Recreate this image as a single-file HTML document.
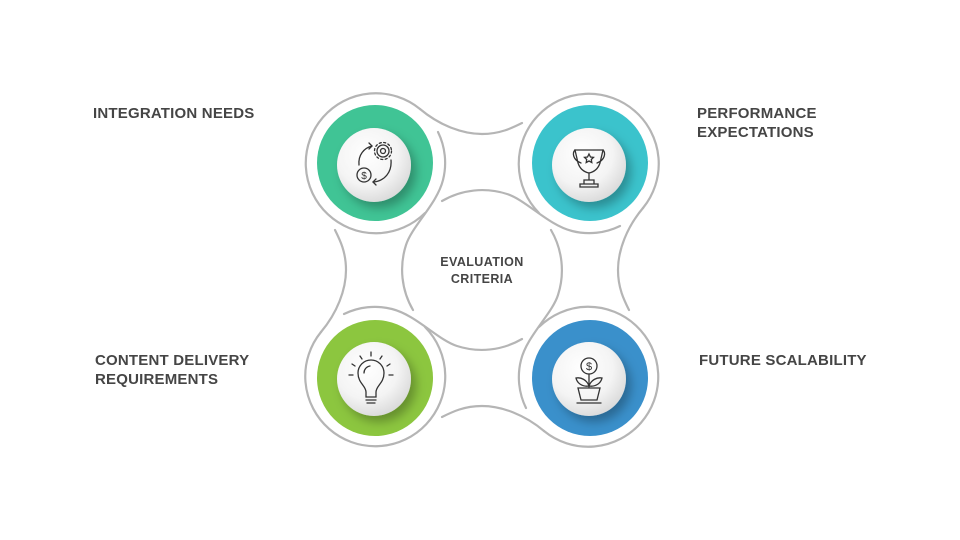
<!DOCTYPE html>
<html><head><meta charset="utf-8"><style>
html,body{margin:0;padding:0;background:#fff;}
body{width:960px;height:540px;position:relative;overflow:hidden;font-family:"Liberation Sans",sans-serif;}
.lbl{position:absolute;font-weight:bold;font-size:15px;color:#454545;line-height:19px;letter-spacing:0.2px;}
</style></head><body>
<svg width="960" height="540" viewBox="0 0 960 540" style="position:absolute;left:0;top:0">
<defs>
<radialGradient id="wg" cx="40%" cy="35%" r="70%">
<stop offset="0" stop-color="#ffffff"/><stop offset="0.6" stop-color="#f4f4f4"/><stop offset="1" stop-color="#d8d8d8"/>
</radialGradient>
<filter id="sh" x="-30%" y="-30%" width="170%" height="170%">
<feDropShadow dx="5" dy="6" stdDeviation="5" flood-color="#000" flood-opacity="0.28"/>
</filter>
<g id="piece" fill="none" stroke="#b5b5b5" stroke-width="2.2" stroke-linecap="round">
<path d="M -62,-161 A 70 70 0 1 0 -57,-57"/>
<path d="M -62,-161 C -43,-145 -20,-136 0,-136 C 18,-136 30,-142 40,-147"/>
<path d="M -69,40 A 80 80 0 0 1 -76,-25 C -70,-44 -45,-66 -39,-90 A 70 70 0 0 0 -44,-138"/>
</g>
</defs>
<g transform="translate(482,270)">
<use href="#piece"/>
<use href="#piece" transform="rotate(90)"/>
<use href="#piece" transform="rotate(180)"/>
<use href="#piece" transform="rotate(270)"/>
</g>
<circle cx="375" cy="163" r="58" fill="#40c495"/>
<circle cx="590" cy="163" r="58" fill="#3bc3cc"/>
<circle cx="375" cy="378" r="58" fill="#8cc63f"/>
<circle cx="590" cy="378" r="58" fill="#3a90cb"/>
<g filter="url(#sh)">
<circle cx="374" cy="165" r="37" fill="url(#wg)"/>
<circle cx="589" cy="165" r="37" fill="url(#wg)"/>
<circle cx="374" cy="379" r="37" fill="url(#wg)"/>
<circle cx="589" cy="379" r="37" fill="url(#wg)"/>
</g>
<g fill="none" stroke="#333" stroke-width="1.3" stroke-linecap="round">
<circle cx="383" cy="151" r="6"/><circle cx="383" cy="151" r="2.5"/>
<circle cx="383" cy="151" r="8.5" stroke-dasharray="2 2.5"/>
<circle cx="364" cy="175" r="7"/>
<text x="364" y="179" font-size="10" fill="#333" stroke="none" text-anchor="middle" font-family="Liberation Sans">$</text>
<path d="M372,146 C364,148 358,155 359,165"/><path d="M369,143 l3,3 l-3,3"/>
<path d="M391,160 C392,172 385,181 373,182"/><path d="M376,179 l-3,3 l3,3"/>
<path d="M575,150 h28 l-3,13 c-2,6 -6,9 -11,10 c-5,-1 -9,-4 -11,-10 z"/>
<path d="M575,150 c-3,3 -2,10 6,13"/><path d="M603,150 c3,3 2,10 -6,13"/>
<path d="M589,173 v7 M584,180 h10 v4 h-10 z M580,184 h18 v3 h-18 z"/>
<path d="M589,154 l1.5,3 3,.4 -2.2,2.1 .5,3 -2.8,-1.5 -2.8,1.5 .5,-3 -2.2,-2.1 3,-.4 z"/>
<path d="M366,397 v-5 c0,-6 -8,-9 -8,-19 a13,13 0 0 1 26,0 c0,10 -8,13 -8,19 v5 z"/>
<path d="M366,400 h10 M367,403 h8"/>
<path d="M364,373 a7,7 0 0 1 6,-7"/>
<path d="M371,356 v-4 M362,359 l-2,-3 M380,359 l2,-3 M355,366 l-3,-2 M387,366 l3,-2 M353,375 h-4 M389,375 h4"/>
<circle cx="589" cy="366" r="8"/>
<text x="589" y="370" font-size="11" fill="#333" stroke="none" text-anchor="middle" font-family="Liberation Sans">$</text>
<path d="M589,374 v13"/>
<path d="M589,386 c-2,-6 -8,-9 -13,-8 c1,5 6,9 13,8 z"/>
<path d="M589,386 c2,-6 8,-9 13,-8 c-1,5 -6,9 -13,8 z"/>
<path d="M578,388 h22 l-3,12 h-16 z M577,403 h24"/>
</g>
<text x="482" y="266" font-size="12.5" font-weight="bold" fill="#454545" text-anchor="middle" letter-spacing="0.4" font-family="Liberation Sans">EVALUATION</text>
<text x="482" y="283" font-size="12.5" font-weight="bold" fill="#454545" text-anchor="middle" letter-spacing="0.4" font-family="Liberation Sans">CRITERIA</text>
</svg>
<div class="lbl" style="left:93px;top:104px">INTEGRATION NEEDS</div>
<div class="lbl" style="left:697px;top:104px">PERFORMANCE<br>EXPECTATIONS</div>
<div class="lbl" style="left:95px;top:351px">CONTENT DELIVERY<br>REQUIREMENTS</div>
<div class="lbl" style="left:699px;top:351px">FUTURE SCALABILITY</div>
</body></html>
